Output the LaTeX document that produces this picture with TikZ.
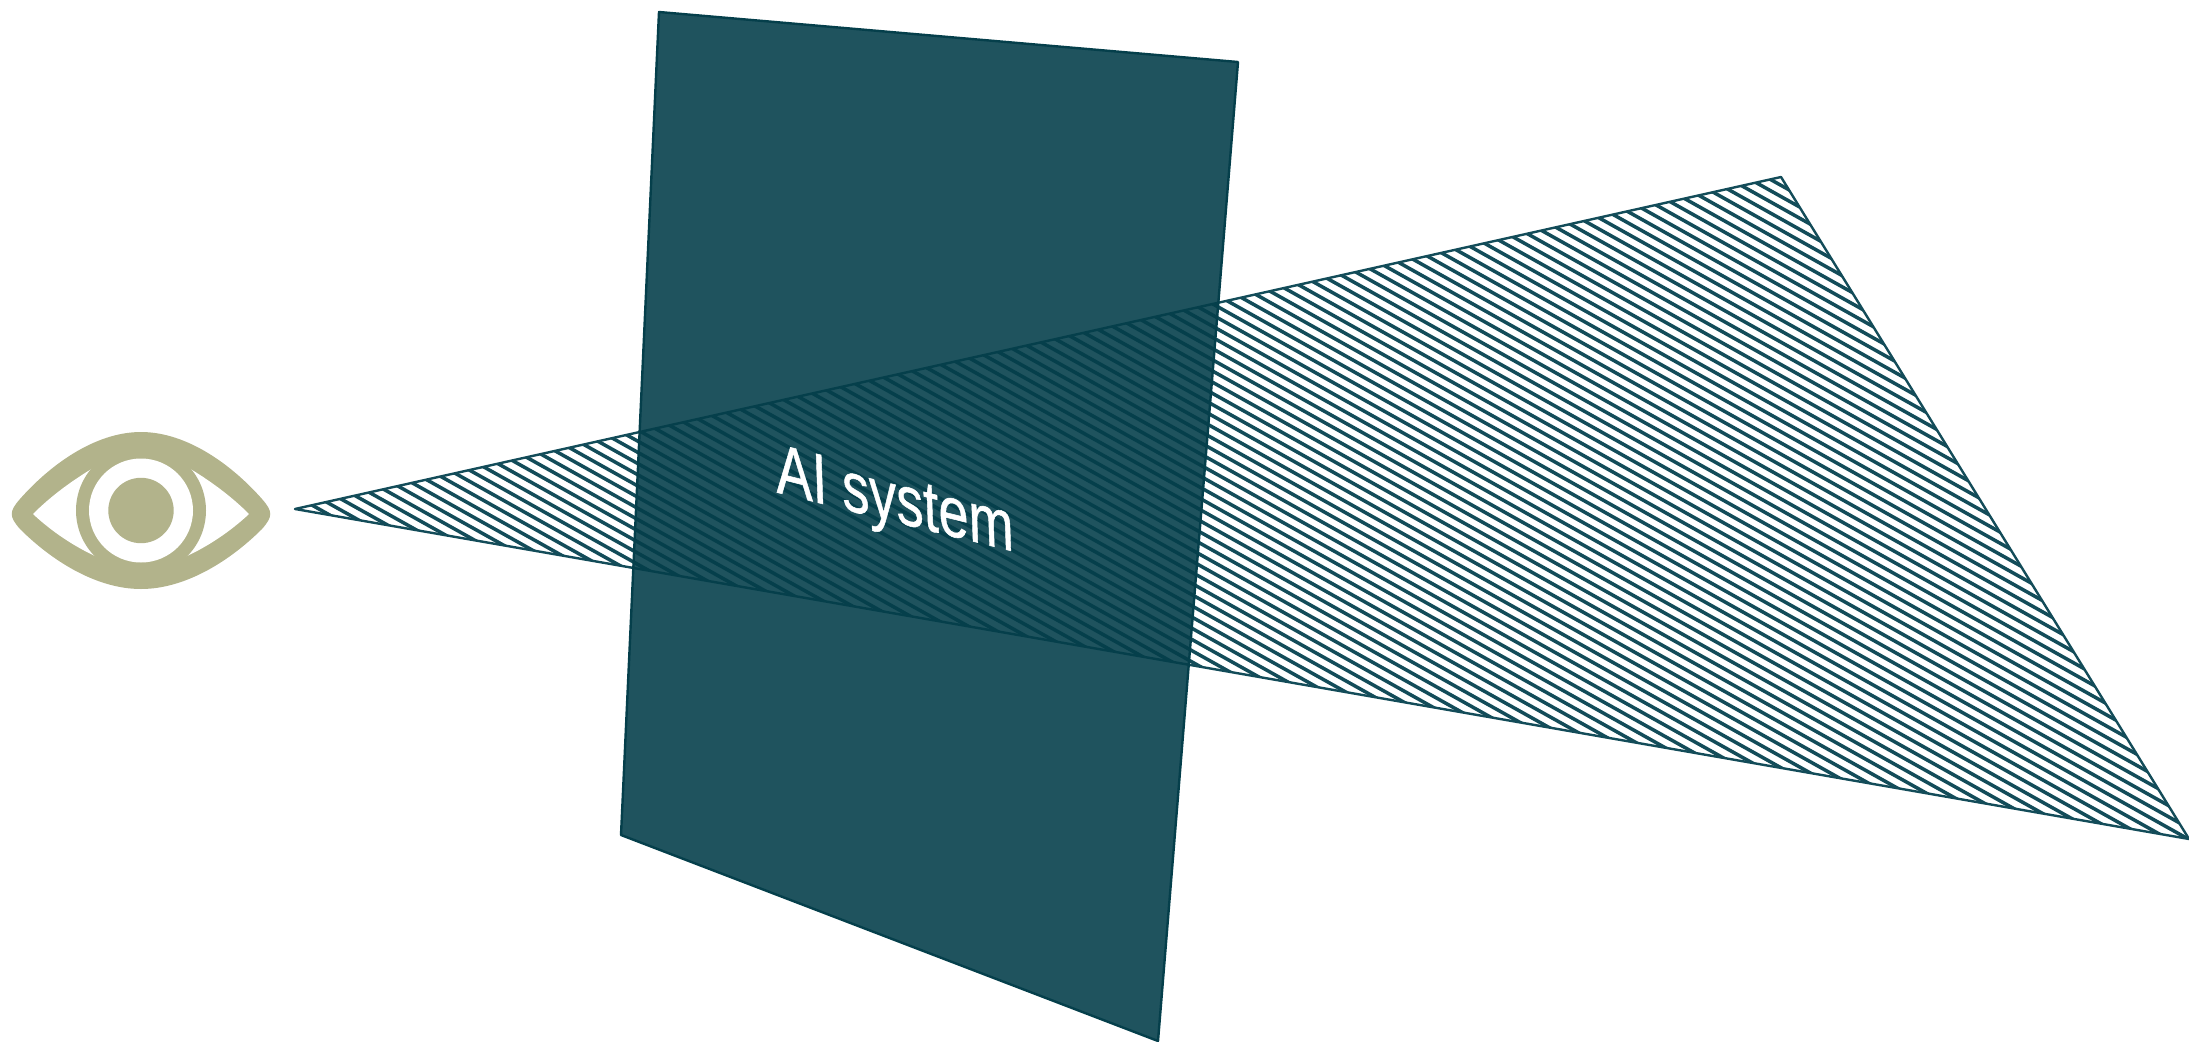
\documentclass[tikz,border=0pt]{standalone}
\usepackage{fontspec}
\setmainfont{Liberation Sans}
\definecolor{panelteal}{HTML}{1F535E}
\definecolor{hatchteal}{HTML}{134C59}
\definecolor{darkteal}{HTML}{053F4B}
\definecolor{eyeolive}{HTML}{B2B38B}
\newcommand{\hatchlines}[1]{%
	\foreach \c in {-711.2,-700,...,470}
		\draw[hatch line,#1] (200,\c) -- (2300,\c+1176);
}
\begin{document}
\begin{tikzpicture}[x=1pt,y=-1pt,
				hatch line/.style={line width=3.5pt,hatchteal},
				edge line/.style={line width=2.4pt,line join=round},
				eye part/.style={fill=eyeolive,draw=none},
				label text/.style={text=white,font=\fontsize{60}{60}\selectfont\addfontfeature{FakeBold=0.8},transform shape}]
	\useasboundingbox (0,0) rectangle (2189,1041);

	\coordinate (tip) at (295,509);
	\coordinate (top) at (1781,177);
	\coordinate (low) at (2189,839);
	\coordinate (p1) at (659,12);
	\coordinate (p2) at (1238,62);
	\coordinate (p3) at (1158,1041);
	\coordinate (p4) at (621,835);

	% eye
	\fill[eye part] (20,499) .. controls (50,465) and (95,432) .. (141,432)
		.. controls (187,432) and (232,465) .. (262,499)
		.. controls (273,511.5) and (273,516.5) .. (262,529)
		.. controls (232,559) and (187,589) .. (141,589)
		.. controls (95,589) and (50,559) .. (20,529)
		.. controls (9,516.5) and (9,511.5) .. (20,499) -- cycle;
	\fill[white] (33,514) .. controls (50,497) and (72,480) .. (100,464)
		-- (182,464) .. controls (210,480) and (232,497) .. (249,514)
		.. controls (232,530) and (207,548) .. (178,560)
		-- (104,560) .. controls (75,548) and (50,530) .. (33,514) -- cycle;
	\fill[eye part] (141,510.5) circle (65);
	\fill[white] (141,510.5) circle (52);
	\fill[eye part] (141,510.5) circle (32.7);

	% hatched triangle
	\begin{scope}
		\clip (tip) -- (top) -- (low) -- cycle;
		\hatchlines{}
	\end{scope}
	\draw[edge line,hatchteal] (tip) -- (top) -- (low) -- cycle;

	% panel
	\fill[panelteal] (p1) -- (p2) -- (p3) -- (p4) -- cycle;
	\begin{scope}
		\clip (p1) -- (p2) -- (p3) -- (p4) -- cycle;
		\clip (tip) -- (top) -- (low) -- cycle;
		\hatchlines{darkteal}
	\end{scope}
	\begin{scope}
		\clip (p1) -- (p2) -- (p3) -- (p4) -- cycle;
		\draw[edge line,darkteal] (tip) -- (top) -- (low) -- cycle;
	\end{scope}
	\draw[edge line,darkteal] (p1) -- (p2) -- (p3) -- (p4) -- cycle;

	\node[label text,rotate=-14,xslant=-.287,xscale=.93,yscale=1.14] (label) at (895,505) {AI system};
\end{tikzpicture}
\end{document}
